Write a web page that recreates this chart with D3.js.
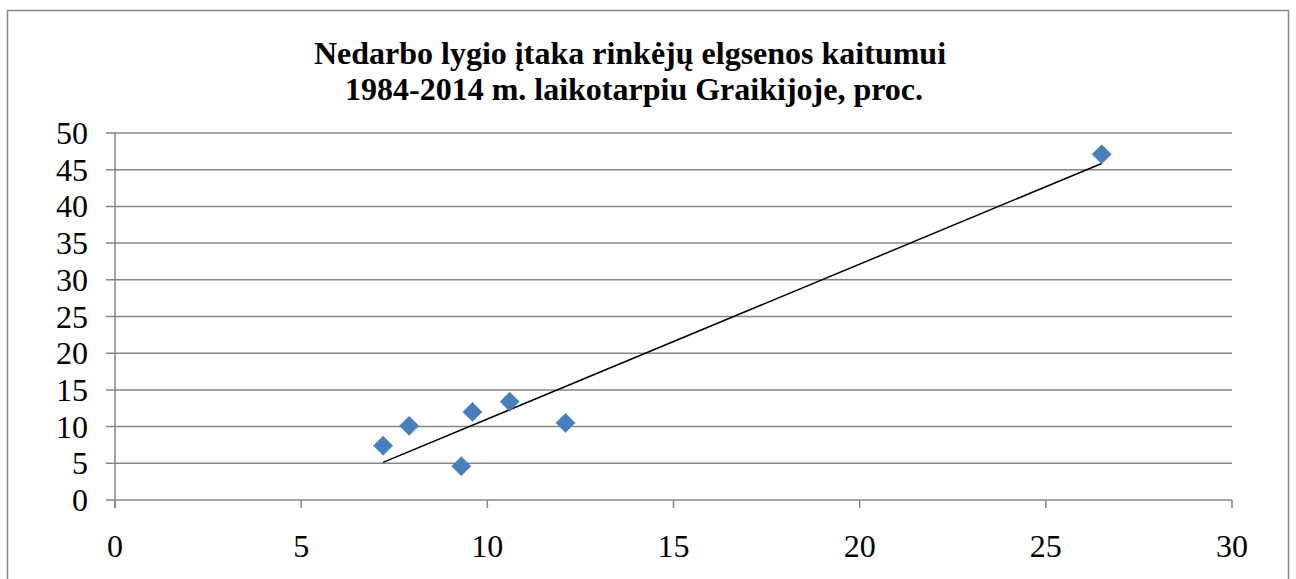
<!DOCTYPE html>
<html>
<head>
<meta charset="utf-8">
<script src="https://cdnjs.cloudflare.com/ajax/libs/d3/7.8.5/d3.min.js"></script>
<style>
  body { margin: 0; background: #fff; }
  svg { display: block; }
</style>
</head>
<body>
<svg id="viz"></svg>
<script>
// unemployment (x) vs. voter behaviour change (y), %
var xVals = [7.2, 7.9, 9.3, 9.6, 10.6, 12.1, 26.5];
var yVals = [7.4, 10.1, 4.6, 12.0, 13.4, 10.5, 47.1];
var xTicks = [0, 5, 10, 15, 20, 25, 30];
var yTicks = [0, 5, 10, 15, 20, 25, 30, 35, 40, 45, 50];
var titleLines = ["Nedarbo lygio įtaka rinkėjų elgsenos kaitumui", "\u00a01984-2014 m. laikotarpiu Graikijoje, proc."];

var width = 1296, height = 579;
var plotL = 115, plotR = 1232, plotT = 133, plotB = 500;
var gridColor = "#868686";
var fontFam = "'Liberation Serif', 'Times New Roman', serif";

var svg = d3.select("#viz").attr("width", width).attr("height", height);

// outer chart frame
svg.append("rect")
    .attr("x", 7.5).attr("y", 10.5)
    .attr("width", 1281).attr("height", 620)
    .attr("fill", "#fff")
    .attr("stroke", gridColor)
    .attr("stroke-width", 1.5);

var x = d3.scaleLinear().domain([0, 30]).range([plotL, plotR]);
var y = d3.scaleLinear().domain([0, 50]).range([plotB, plotT]);

// title
svg.append("g").selectAll("text")
    .data(titleLines)
    .enter()
    .append("text")
    .attr("x", 630)
    .attr("y", function (d, i) { return 64 + i * 36; })
    .attr("text-anchor", "middle")
    .style("font-family", fontFam)
    .style("font-weight", "bold")
    .style("font-size", "32px")
    .text(function (d) { return d; });

// horizontal gridlines
svg.append("g").selectAll("line")
    .data(yTicks)
    .enter()
    .append("line")
    .attr("x1", plotL - 9).attr("x2", plotR)
    .attr("y1", function (d) { return y(d); })
    .attr("y2", function (d) { return y(d); })
    .attr("stroke", gridColor)
    .attr("stroke-width", 1.5);

// y axis line
svg.append("line")
    .attr("x1", plotL).attr("x2", plotL)
    .attr("y1", plotT).attr("y2", plotB + 8)
    .attr("stroke", gridColor)
    .attr("stroke-width", 1.5);

// x tick marks
svg.append("g").selectAll("line")
    .data(xTicks)
    .enter()
    .append("line")
    .attr("x1", function (d) { return x(d); })
    .attr("x2", function (d) { return x(d); })
    .attr("y1", plotB).attr("y2", plotB + 8)
    .attr("stroke", gridColor)
    .attr("stroke-width", 1.5);

// y labels
svg.append("g").selectAll("text")
    .data(yTicks)
    .enter()
    .append("text")
    .attr("x", 88)
    .attr("y", function (d) { return y(d) + 11; })
    .attr("text-anchor", "end")
    .style("font-family", fontFam)
    .style("font-size", "32px")
    .text(function (d) { return d; });

// x labels
svg.append("g").selectAll("text")
    .data(xTicks)
    .enter()
    .append("text")
    .attr("x", function (d) { return x(d); })
    .attr("y", 557)
    .attr("text-anchor", "middle")
    .style("font-family", fontFam)
    .style("font-size", "32px")
    .text(function (d) { return d; });

// linear trend line (least squares)
var mx = d3.mean(xVals), my = d3.mean(yVals);
var sxy = d3.sum(xVals, function (d, i) { return (d - mx) * (yVals[i] - my); });
var sxx = d3.sum(xVals, function (d) { return (d - mx) * (d - mx); });
var slope = sxy / sxx, intercept = my - slope * mx;
var xMin = d3.min(xVals), xMax = d3.max(xVals);

svg.append("line")
    .attr("x1", x(xMin)).attr("y1", y(intercept + slope * xMin))
    .attr("x2", x(xMax)).attr("y2", y(intercept + slope * xMax))
    .attr("stroke", "#000")
    .attr("stroke-width", 1.5);

// diamond markers
var points = xVals.map(function (d, i) { return { x: d, y: yVals[i] }; });
svg.append("g").selectAll("path")
    .data(points)
    .enter()
    .append("path")
    .attr("d", d3.symbol().type(d3.symbolSquare).size(185))
    .attr("transform", function (d) { return "translate(" + x(d.x) + "," + y(d.y) + ") rotate(45)"; })
    .attr("fill", "#4A7EBB")
    .attr("stroke", "#4F81BD")
    .attr("stroke-width", 0.5);
</script>
</body>
</html>
